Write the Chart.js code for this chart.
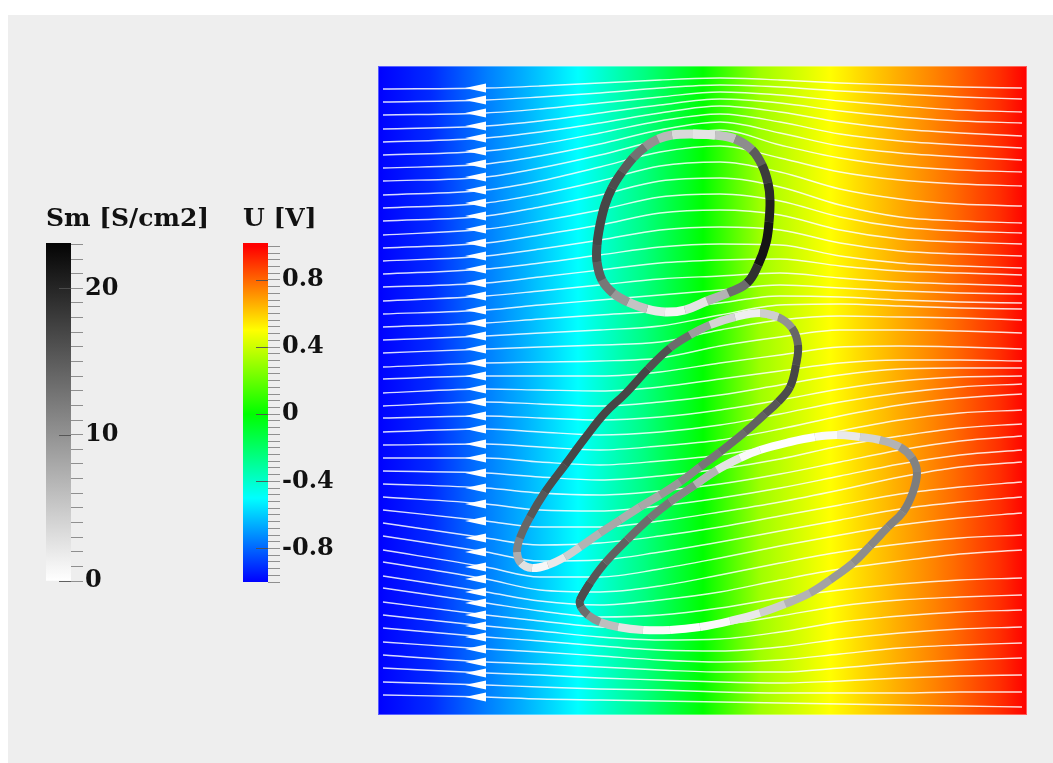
<!DOCTYPE html>
<html><head><meta charset="utf-8">
<script src="https://cdn.jsdelivr.net/npm/chart.js@4.4.1/dist/chart.umd.min.js"></script>
<style>
html,body{margin:0;padding:0;background:#ffffff;}
#wrap{position:relative;width:1053px;height:763px;overflow:hidden;}
#panel{position:absolute;left:8px;top:15px;right:0;bottom:0;background:#eeeeee;}
canvas{position:absolute;left:0;top:0;}
</style></head><body>
<div id="wrap"><div id="panel"></div>
<canvas id="main" width="1053" height="763" style="width:1053px;height:763px"></canvas>
<canvas id="smBar" width="1053" height="763" style="width:1053px;height:763px"></canvas>
<canvas id="uBar" width="1053" height="763" style="width:1053px;height:763px"></canvas>
</div>
<script>
// ---------------- data (domain units, y measured downward) ----------------
const domainMin = 0, domainMax = 649;

// potential U [V] along x (field is nearly uniform in y)
const fieldX = [0, 52, 110, 152, 200, 234, 267, 297, 325, 382, 422, 452, 502, 572, 622, 649];
const fieldU = [-1, -0.92, -0.75, -0.64, -0.5, -0.37, -0.25, -0.12, 0, 0.31, 0.42, 0.5, 0.62, 0.78, 0.91, 1.0];

// colormaps
const uStops = [-1, -0.5, 0, 0.5, 1];
const uColors = [[0,0,255],[0,255,255],[0,255,0],[255,255,0],[255,0,0]];
const uMin = -1.0, uMax = 1.02;
const smMin = 0, smMax = 23.1;

// streamline sample x positions and y of each streamline
const sampleX = [5, 108, 162, 222, 282, 342, 402, 462, 522, 582, 644];
const arrowIndex = 1;
const streamlineY = [
  [23, 22, 20, 17, 14, 12, 14, 17, 19, 21, 22],
  [36, 34, 31, 27, 22, 19, 21, 25, 28, 31, 33],
  [49, 47, 43, 37, 31, 26, 29, 35, 40, 44, 46],
  [63, 60, 55, 47, 39, 33, 37, 45, 51, 55, 57],
  [76, 72, 66, 57, 47, 40, 46, 56, 63, 67, 70],
  [89, 85, 78, 67, 55, 48, 56, 68, 75, 79, 82],
  [102, 98, 90, 78, 64, 56, 67, 80, 87, 91, 94],
  [115, 111, 102, 89, 74, 64, 79, 92, 100, 104, 106],
  [129, 124, 115, 101, 86, 80, 92, 106, 114, 118, 120],
  [142, 137, 128, 115, 100, 96, 106, 123, 133, 138, 140],
  [155, 150, 141, 129, 115, 112, 121, 139, 151, 155, 157],
  [169, 163, 155, 144, 131, 128, 135, 151, 161, 165, 167],
  [182, 177, 169, 159, 147, 144, 149, 164, 173, 176, 178],
  [195, 190, 183, 174, 164, 161, 164, 177, 185, 188, 190],
  [208, 203, 197, 189, 181, 178, 179, 190, 197, 200, 202],
  [221, 217, 211, 204, 197, 194, 193, 200, 205, 207, 209],
  [235, 230, 225, 219, 213, 210, 207, 212, 216, 218, 220],
  [248, 244, 239, 234, 229, 224, 219, 222, 225, 227, 228],
  [261, 257, 253, 249, 245, 237, 230, 231, 234, 236, 237],
  [274, 270, 267, 264, 260, 249, 239, 238, 240, 242, 243],
  [287, 283, 281, 279, 276, 264, 254, 250, 251, 252, 254],
  [301, 297, 296, 295, 292, 280, 271, 264, 264, 265, 267],
  [313, 310, 310, 310, 306, 297, 289, 281, 280, 281, 283],
  [327, 323, 324, 325, 321, 313, 305, 297, 294, 294, 295],
  [340, 336, 338, 340, 336, 329, 319, 309, 303, 302, 302],
  [352, 350, 352, 354, 351, 344, 334, 323, 315, 311, 310],
  [366, 363, 366, 369, 366, 359, 348, 336, 327, 321, 318],
  [379, 378, 381, 384, 380, 374, 363, 350, 339, 332, 328],
  [392, 392, 396, 399, 395, 389, 378, 365, 354, 347, 344],
  [405, 407, 411, 414, 410, 403, 393, 380, 370, 362, 358],
  [418, 422, 427, 429, 425, 418, 408, 396, 384, 375, 370],
  [431, 438, 444, 445, 440, 432, 422, 410, 398, 389, 384],
  [444, 455, 461, 461, 455, 446, 436, 424, 411, 401, 396],
  [457, 472, 479, 477, 470, 461, 450, 439, 428, 421, 416],
  [470, 486, 495, 494, 486, 476, 465, 454, 443, 436, 431],
  [484, 501, 511, 511, 503, 492, 480, 469, 459, 452, 447],
  [496, 513, 524, 526, 520, 509, 497, 486, 478, 472, 469],
  [510, 526, 535, 539, 534, 526, 514, 503, 495, 488, 484],
  [522, 537, 545, 551, 549, 542, 532, 524, 518, 514, 512],
  [536, 549, 555, 561, 563, 559, 550, 540, 534, 531, 529],
  [549, 560, 565, 571, 574, 573, 566, 556, 550, 546, 544],
  [562, 571, 575, 580, 584, 585, 581, 573, 567, 563, 561],
  [576, 583, 586, 590, 594, 596, 594, 588, 582, 579, 577],
  [589, 596, 598, 601, 604, 606, 606, 602, 597, 594, 592],
  [602, 607, 609, 612, 614, 616, 617, 615, 612, 610, 609],
  [616, 619, 621, 623, 624, 626, 627, 627, 627, 626, 626],
  [629, 631, 633, 634, 635, 636, 637, 638, 639, 640, 641]
];

// cell membranes: outline points and membrane conductance Sm [S/cm2]
const cell1X = [315,337,357,374,384,390,392,391,388,380,369,350,329,307,287,269,250,235,224,219,219,222,227,234,244,255,267,280,294];
const cell1Y = [68,69,73,84,99,117,134,156,177,199,217,227,235,244,246,243,236,227,214,196,179,159,139,122,106,92,81,73,69];
const cell1Sm = [2,3,8,13,17,19,20,21,22,21,17,10,4,1,1,3,8,11,14,16,17,17,17,17,16,14,12,8,5];

const cell2X = [382,400,414,420,418,412,400,387,367,342,322,302,282,262,242,222,202,187,170,154,143,139,142,152,167,187,207,227,247,270,292,312,332,357];
const cell2Y = [247,251,262,279,299,321,336,348,366,386,401,416,429,441,454,467,481,491,499,502,497,486,472,451,426,399,372,347,328,303,282,269,259,251];
const cell2Sm = [1,8,12,16,17,17,16,15,14,13,12,10,9,7,8,8,6,3,1,0.5,5,10,13,15,16,17,17,17,17,17,15,12,6,2];

const cell3X = [202,212,227,249,272,292,317,339,362,382,412,437,459,482,502,522,534,539,535,525,510,492,475,452,432,407,382,352,322,292,265,240,222,210,203];
const cell3Y = [534,517,497,474,452,436,419,404,392,384,376,371,369,371,374,381,392,406,426,446,461,480,497,514,527,538,547,555,561,564,564,561,556,549,541];
const cell3Sm = [17,16,15,14,13,12,10,4,1,0,0,0,1,3,5,9,11,12,12,12,11,11,10,9,8,6,3,1,0,0,1,4,8,12,15];

const smTitle = 'Sm [S/cm2]';
const uTitle = 'U [V]';
const smMajor = [0, 10, 20];
const uMajor = [-0.8, -0.4, 0, 0.4, 0.8];

// ---------------- helpers ----------------
function uRGB(u) {
  if (u <= uStops[0]) return uColors[0];
  for (let k = 0; k < uStops.length - 1; k++) {
    if (u <= uStops[k + 1]) {
      const t = (u - uStops[k]) / (uStops[k + 1] - uStops[k]);
      return uColors[k].map((c, j) => Math.round(c + (uColors[k + 1][j] - c) * t));
    }
  }
  return uColors[uColors.length - 1];
}
const rgbStr = (c) => `rgb(${c[0]},${c[1]},${c[2]})`;
function smGray(sm) {
  const t = Math.max(0, Math.min(1, (sm - smMin) / 23));
  const g = Math.round(250 * (1 - t) + 5);
  return `rgb(${g},${g},${g})`;
}
const FONT = "'DejaVu Serif', serif";

// arrow glyph (pointing left, base at centre)
const arrowImg = document.createElement('canvas');
arrowImg.width = 44; arrowImg.height = 10;
(function () {
  const c = arrowImg.getContext('2d');
  c.fillStyle = '#ffffff';
  c.beginPath(); c.moveTo(1, 5); c.lineTo(22, 0.6); c.lineTo(22, 9.4); c.closePath(); c.fill();
})();

// ---------------- main plot ----------------
const fieldPlugin = {
  id: 'field',
  beforeDatasetsDraw(chart) {
    const { ctx, chartArea: a, scales: { x } } = chart;
    const g = ctx.createLinearGradient(a.left, 0, a.right, 0);
    const w = a.right - a.left;
    for (let k = 0; k < fieldX.length - 1; k++) {
      const steps = 10;
      for (let s = 0; s < steps; s++) {
        const t = s / steps;
        const fx = fieldX[k] + (fieldX[k + 1] - fieldX[k]) * t;
        const fu = fieldU[k] + (fieldU[k + 1] - fieldU[k]) * t;
        const p = (x.getPixelForValue(fx) - a.left) / w;
        g.addColorStop(Math.max(0, Math.min(1, p)), rgbStr(uRGB(fu)));
      }
    }
    g.addColorStop(1, rgbStr(uRGB(fieldU[fieldU.length - 1])));
    ctx.save();
    ctx.fillStyle = g;
    ctx.fillRect(a.left, a.top, w, a.bottom - a.top);
    ctx.restore();
  },
  afterDraw(chart) {
    const { ctx, chartArea: a } = chart;
    ctx.save();
    ctx.strokeStyle = 'rgba(255,255,255,0.35)';
    ctx.lineWidth = 1;
    ctx.strokeRect(a.left + 0.5, a.top + 0.5, a.right - a.left - 1, a.bottom - a.top - 1);
    ctx.restore();
  }
};

const datasets = [];
streamlineY.forEach((ys) => {
  datasets.push({
    type: 'line',
    data: sampleX.map((x, k) => ({ x, y: ys[k] })),
    borderColor: 'rgba(255,255,255,0.85)',
    borderWidth: 1.4,
    pointRadius: 0,
    cubicInterpolationMode: 'monotone',
    fill: false,
    order: 4
  });
});
datasets.push({
  type: 'scatter',
  data: streamlineY.map((ys) => ({ x: sampleX[arrowIndex], y: ys[arrowIndex] })),
  pointStyle: arrowImg,
  pointRadius: 5,
  showLine: false,
  order: 3
});
[[cell1X, cell1Y, cell1Sm, 9], [cell2X, cell2Y, cell2Sm, 8], [cell3X, cell3Y, cell3Sm, 8]].forEach(([xs, ys, sm, bw]) => {
  const pts = xs.map((x, k) => ({ x, y: ys[k] }));
  const ext = pts.concat([pts[0], pts[1]]);
  const smExt = sm.concat([sm[0], sm[1]]);
  const avg = sm.reduce((a, b) => a + b, 0) / sm.length;
  // underlay (hides seams between shaded segments)
  datasets.push({
    type: 'line', data: ext, borderWidth: bw - 1, tension: 0.4, pointRadius: 0,
    borderColor: smGray(avg), borderJoinStyle: 'round', fill: false, order: 2
  });
  datasets.push({
    type: 'line',
    data: ext,
    borderWidth: bw,
    tension: 0.4,
    pointRadius: 0,
    borderCapStyle: 'butt',
    borderJoinStyle: 'round',
    borderColor: smGray(sm[0]),
    segment: { borderColor: (c) => smGray((smExt[c.p0DataIndex] + smExt[c.p1DataIndex]) / 2) },
    fill: false,
    order: 1
  });
});

new Chart(document.getElementById('main'), {
  type: 'line',
  data: { datasets },
  options: {
    responsive: false, animation: false, devicePixelRatio: 1, events: [],
    layout: { padding: { left: 378, top: 66, right: 26, bottom: 48 } },
    scales: {
      x: { type: 'linear', min: domainMin, max: domainMax, display: false },
      y: { type: 'linear', min: domainMin, max: domainMax, reverse: true, display: false }
    },
    plugins: { legend: { display: false }, tooltip: { enabled: false }, title: { display: false } }
  },
  plugins: [fieldPlugin]
});

// ---------------- colour bars ----------------
function majorTickPlugin(values, color) {
  return {
    id: 'majorTicks',
    afterDatasetsDraw(chart) {
      const { ctx, chartArea: a, scales: { y } } = chart;
      ctx.save();
      ctx.strokeStyle = color; ctx.lineWidth = 1;
      values.forEach((v) => {
        const py = Math.round(y.getPixelForValue(v)) + 0.5;
        ctx.beginPath(); ctx.moveTo(a.left + (a.right - a.left) * 0.52, py); ctx.lineTo(a.right, py); ctx.stroke();
      });
      ctx.restore();
    }
  };
}

function barChart(id, opts) {
  return new Chart(document.getElementById(id), {
    type: 'bar',
    data: {
      labels: [opts.title],
      datasets: [{
        data: [[opts.min, opts.max]],
        barPercentage: 1, categoryPercentage: 1, borderWidth: 0,
        backgroundColor: (c) => {
          const ch = c.chart; const a = ch.chartArea; if (!a) return '#888';
          const y = ch.scales.y;
          const g = ch.ctx.createLinearGradient(0, y.getPixelForValue(opts.min), 0, y.getPixelForValue(opts.max));
          opts.stops.forEach(([v, col]) => g.addColorStop(Math.max(0, Math.min(1, (v - opts.min) / (opts.max - opts.min))), col));
          return g;
        }
      }]
    },
    options: {
      responsive: false, animation: false, devicePixelRatio: 1, events: [],
      layout: { padding: { left: opts.left, top: opts.top, right: 1053 - opts.left - 25 - 150, bottom: 763 - opts.bottom } },
      scales: {
        x: { display: false },
        y: {
          position: 'right', min: opts.min, max: opts.max,
          afterFit: (s) => { s.width = 150; },
          border: { display: false },
          grid: { drawOnChartArea: false, tickLength: 12, color: '#8f8f8f', lineWidth: 1 },
          ticks: {
            stepSize: opts.step, autoSkip: false, includeBounds: false, padding: 2,
            color: '#111', font: { family: FONT, size: 24, weight: 'bold' },
            callback: opts.label
          }
        }
      },
      plugins: {
        legend: { display: false }, tooltip: { enabled: false },
        title: {
          display: true, text: opts.title, align: 'start', color: '#111',
          font: { family: FONT, size: 25, weight: 'bold', lineHeight: 1.2 },
          padding: { top: 0, bottom: opts.top2 }
        }
      }
    },
    plugins: [majorTickPlugin(opts.major, 'rgba(80,80,80,0.9)')]
  });
}

barChart('smBar', {
  title: smTitle, left: 46, top: 204, top2: 9, bottom: 581,
  min: smMin, max: smMax, step: 1, major: smMajor,
  stops: [[smMin, '#ffffff'], [23, '#050505'], [smMax, '#050505']],
  label: (v) => (Math.abs(v % 10) < 1e-6 ? String(Math.round(v)) : '')
});
barChart('uBar', {
  title: uTitle, left: 243, top: 204, top2: 9, bottom: 582,
  min: uMin, max: uMax, step: 0.04, major: uMajor,
  stops: uStops.map((v, k) => [v, rgbStr(uColors[k])]),
  label: (v) => {
    const r = v / 0.4;
    if (Math.abs(r - Math.round(r)) > 1e-6 || Math.abs(v) > 0.95) return '';
    const s = Math.round(v * 10) / 10;
    return s === 0 ? '0' : String(s);
  }
});
</script>
</body></html>
